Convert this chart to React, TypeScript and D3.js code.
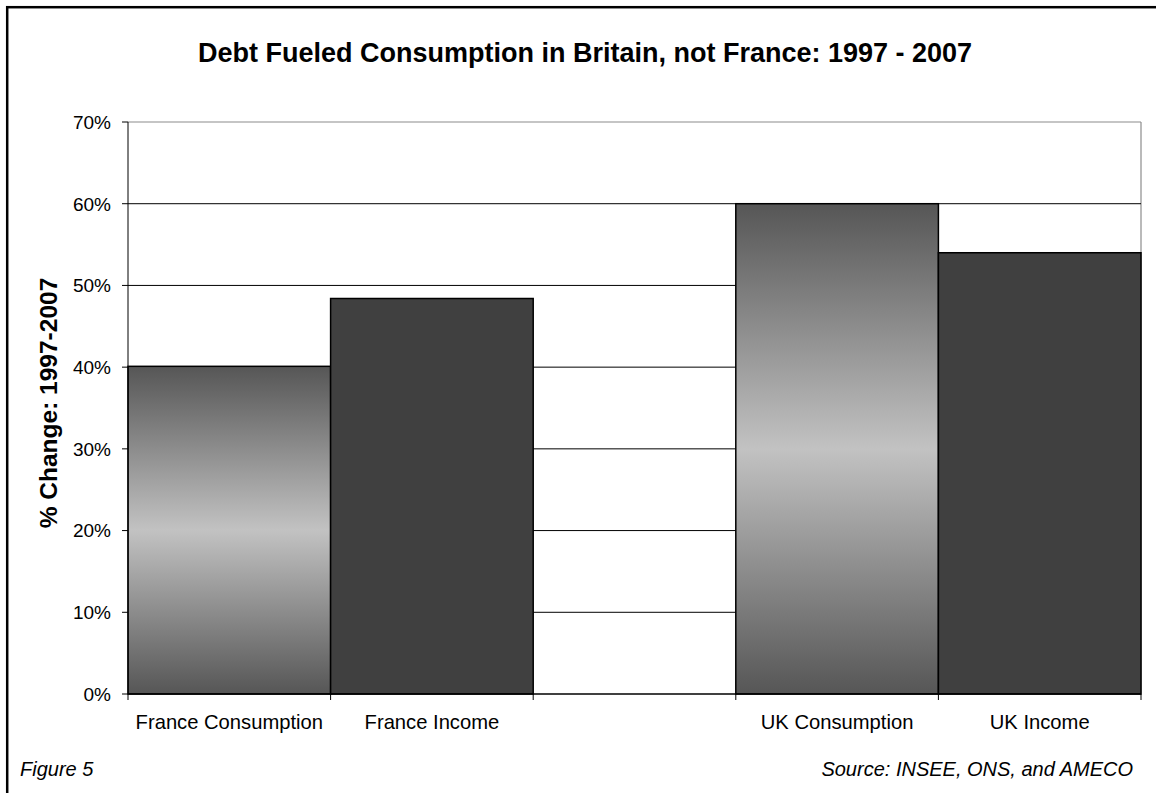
import React from "react";
import * as d3 from "d3";

const categories = ["France Consumption", "France Income", "", "UK Consumption", "UK Income"];
const values = [40.1, 48.4, null, 60.0, 54.0];
const kinds = ["gradient", "solid", "none", "gradient", "solid"];
const yTicks = [0, 10, 20, 30, 40, 50, 60, 70];
const title = "Debt Fueled Consumption in Britain, not France: 1997 - 2007";
const yTitle = "% Change: 1997-2007";
const leftNote = "Figure 5";
const rightNote = "Source: INSEE, ONS, and AMECO";

const W = 1156;
const H = 793;
const plot = { left: 128, right: 1141, top: 122, bottom: 694 };
const font = "'Liberation Sans', Arial, Helvetica, sans-serif";

export default function App() {
  const x = d3
    .scaleBand<number>()
    .domain(categories.map((_, i) => i))
    .range([plot.left, plot.right])
    .paddingInner(0)
    .paddingOuter(0);
  const y = d3.scaleLinear().domain([0, 70]).range([plot.bottom, plot.top]);

  const edges = [...categories.map((_, i) => x(i)!), plot.right];

  return (
    <svg
      width={W}
      height={H}
      style={{ position: "absolute", left: 0, top: 0, background: "#fff", fontFamily: font }}
    >
      <defs>
        <linearGradient id="consGrad" x1="0" y1="0" x2="0" y2="1">
          <stop offset="0" stopColor="#565656" />
          <stop offset="0.5" stopColor="#c2c2c2" />
          <stop offset="1" stopColor="#565656" />
        </linearGradient>
      </defs>
      <rect x={0} y={0} width={W} height={H} fill="#fff" />
      {/* outer frame */}
      <rect x={7.2} y={7.2} width={W + 20} height={H + 20} fill="none" stroke="#000" strokeWidth={2.5} />

      {/* title */}
      <text x={585} y={62} textAnchor="middle" fontSize={27} fontWeight="bold" fill="#000">
        {title}
      </text>

      {/* plot area border (top/right) */}
      <line x1={plot.left} x2={plot.right} y1={y(70)} y2={y(70)} stroke="#8c8c8c" strokeWidth={1.2} />
      <line x1={plot.right} x2={plot.right} y1={y(70)} y2={plot.bottom} stroke="#8c8c8c" strokeWidth={1.2} />

      {/* gridlines */}
      {yTicks
        .filter((t) => t > 0 && t < 70)
        .map((t) => (
          <line key={t} x1={plot.left} x2={plot.right} y1={y(t)} y2={y(t)} stroke="#000" strokeWidth={1} />
        ))}

      {/* bars */}
      {values.map((v, i) =>
        v == null ? null : (
          <rect
            key={i}
            x={x(i)!}
            y={y(v)}
            width={x.bandwidth()}
            height={plot.bottom - y(v)}
            fill={kinds[i] === "gradient" ? "url(#consGrad)" : "#404040"}
            stroke="#000"
            strokeWidth={1.5}
          />
        )
      )}

      {/* y axis */}
      <line x1={plot.left} x2={plot.left} y1={plot.top} y2={plot.bottom} stroke="#000" strokeWidth={1} />
      {yTicks.map((t) => (
        <g key={t}>
          <line x1={plot.left - 6} x2={plot.left} y1={y(t)} y2={y(t)} stroke="#000" strokeWidth={1} />
          <text x={111} y={y(t)} dy="0.36em" textAnchor="end" fontSize={19} fill="#000">
            {t}%
          </text>
        </g>
      ))}

      {/* x axis */}
      <line x1={plot.left} x2={plot.right} y1={plot.bottom} y2={plot.bottom} stroke="#000" strokeWidth={1.5} />
      {edges.map((e, i) => (
        <line key={i} x1={e} x2={e} y1={plot.bottom} y2={plot.bottom + 6} stroke="#000" strokeWidth={1} />
      ))}
      {categories.map((c, i) => (
        <text key={i} x={x(i)! + x.bandwidth() / 2} y={729} textAnchor="middle" fontSize={20.2} fill="#000">
          {c}
        </text>
      ))}

      {/* y title */}
      <text
        transform={`translate(57, 403) rotate(-90)`}
        textAnchor="middle"
        fontSize={24.5}
        fontWeight="bold"
        fill="#000"
      >
        {yTitle}
      </text>

      {/* notes */}
      <text x={20} y={776} fontSize={20} fontStyle="italic" fill="#000">
        {leftNote}
      </text>
      <text x={1133} y={776} textAnchor="end" fontSize={20} fontStyle="italic" fill="#000">
        {rightNote}
      </text>
    </svg>
  );
}
